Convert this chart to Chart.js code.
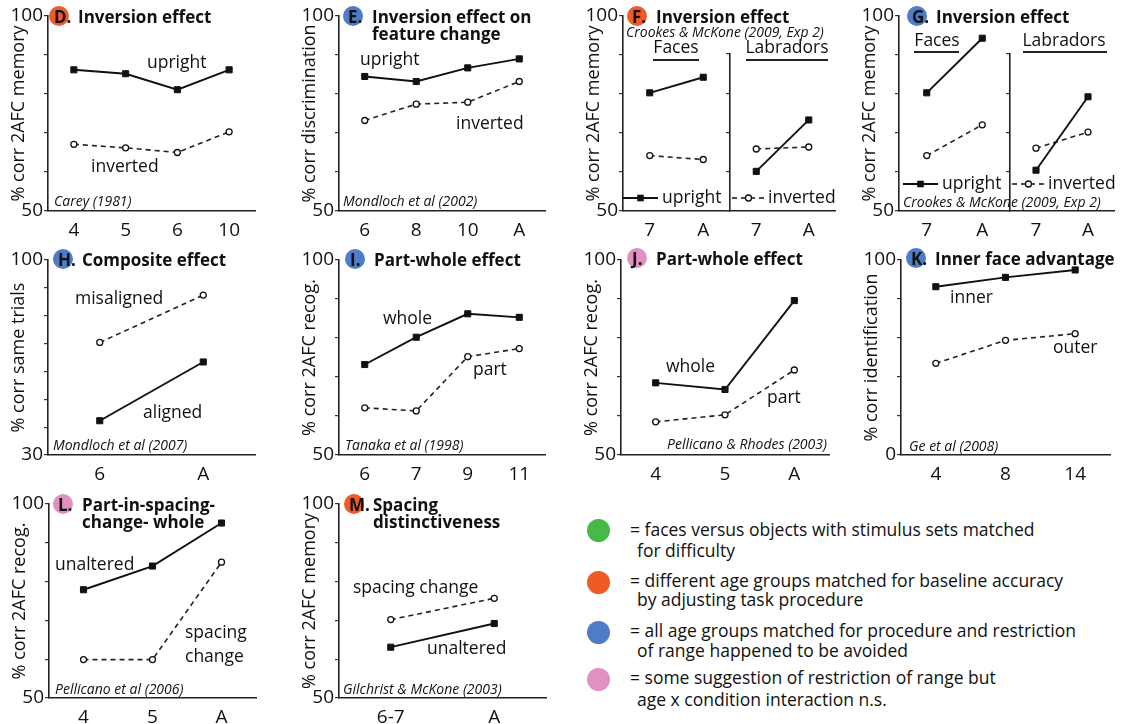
<!DOCTYPE html>
<html>
<head>
<meta charset="utf-8">
<script src="https://cdn.jsdelivr.net/npm/chart.js@4"></script>
<style>
  body { margin: 0; background: #fff; }
  #page { position: relative; width: 1126px; height: 724px; overflow: hidden; font-family: 'Open Sans', sans-serif; color: #111; }
  .t { position: absolute; white-space: nowrap; line-height: 1; transform: translateY(-50%); font-size: 17.5px; }
  .ttl { font-weight: bold; font-size: 17px; }
  .src { font-style: italic; font-size: 14px; }
  .key { font-size: 17.5px; }
  .dot { position: absolute; border-radius: 50%; }
  .uline { position: absolute; height: 1.5px; background: #222; }
  .mk { position: absolute; }
</style>
</head>
<body>
<div id="page"></div>
<script>
'use strict';

// ******* DATA *******

// D. Inversion effect, Carey (1981)
const dAges = ['4', '5', '6', '10'];
const dUpright = [86.2, 85.2, 81.1, 86.2];
const dInverted = [67.1, 66.2, 65.0, 70.3];

// E. Inversion effect on feature change, Mondloch et al (2002)
const eAges = ['6', '8', '10', 'A'];
const eUpright = [84.5, 83.2, 86.7, 89.0];
const eInverted = [73.2, 77.4, 77.9, 83.2];

// F. Inversion effect, Crookes & McKone (2009, Exp 2)
const fAges = ['7', 'A'];
const fFacesUpright = [80.3, 84.3];
const fFacesInverted = [64.2, 63.2];
const fLabUpright = [60.1, 73.2];
const fLabInverted = [65.8, 66.3];

// G. Inversion effect, Crookes & McKone (2009, Exp 2)
const gAges = ['7', 'A'];
const gFacesUpright = [80.3, 94.3];
const gFacesInverted = [64.2, 72.1];
const gLabUpright = [60.4, 79.1];
const gLabInverted = [66.0, 70.1];

// H. Composite effect, Mondloch et al (2007)
const hAges = ['6', 'A'];
const hMisaligned = [70.4, 87.4];
const hAligned = [42.3, 63.4];

// I. Part-whole effect, Tanaka et al (1998)
const iAges = ['6', '7', '9', '11'];
const iWhole = [73.2, 80.2, 86.2, 85.3];
const iPart = [62.1, 61.3, 75.2, 77.3];

// J. Part-whole effect, Pellicano & Rhodes (2003)
const jAges = ['4', '5', 'A'];
const jWhole = [68.5, 66.8, 89.6];
const jPart = [58.5, 60.3, 71.8];

// K. Inner face advantage, Ge et al (2008)
const kAges = ['4', '8', '14'];
const kInner = [86.3, 91.1, 94.9];
const kOuter = [47.0, 58.8, 62.2];

// L. Part-in-spacing-change-whole, Pellicano et al (2006)
const lAges = ['4', '5', 'A'];
const lUnaltered = [77.9, 84.0, 95.1];
const lSpacing = [59.9, 59.9, 85.0];

// M. Spacing distinctiveness, Gilchrist & McKone (2003)
const mAges = ['6-7', 'A'];
const mSpacing = [70.2, 75.7];
const mUnaltered = [63.1, 69.2];

// y ranges [min, max, step]
const range50 = [50, 100, 5];
const range30 = [30, 100, 10];
const range0 = [0, 100, 10];
const rangeLab = [50, 90, 5];

const ORANGE = '#ef5a26';
const BLUE = '#4f7cc6';
const PINK = '#e190c2';
const GREEN = '#46b947';
const FONT = "'Open Sans', sans-serif";

let page = document.getElementById('page');

// ***** HELPERS *****

function solid(data) {
  return {
    data: data,
    borderColor: '#111',
    borderWidth: 1.9,
    pointStyle: 'rect',
    pointRadius: 4.3,
    pointBackgroundColor: '#111',
    pointBorderColor: '#111',
    pointBorderWidth: 1
  };
}

function dashed(data) {
  return {
    data: data,
    borderColor: '#222',
    borderWidth: 1.6,
    borderDash: [5, 4],
    pointStyle: 'circle',
    pointRadius: 3,
    pointBackgroundColor: '#fff',
    pointBorderColor: '#111',
    pointBorderWidth: 1.3
  };
}

// area = chart area in page pixels
function panel(area, labels, datasets, range, yTitle) {
  let W = yTitle ? 48 : 8;
  let H = 30;
  let padTop = 16;
  let padRight = 10;
  let wrap = document.createElement('div');
  wrap.style.position = 'absolute';
  wrap.style.left = (area.l - W) + 'px';
  wrap.style.top = (area.t - padTop) + 'px';
  wrap.style.width = (area.r - area.l + W + padRight) + 'px';
  wrap.style.height = (area.b - area.t + padTop + H) + 'px';
  let canvas = document.createElement('canvas');
  wrap.appendChild(canvas);
  page.appendChild(wrap);

  let yMin = range[0];
  let yMax = range[1];

  new Chart(canvas, {
    type: 'line',
    data: { labels: labels, datasets: datasets },
    options: {
      responsive: true,
      maintainAspectRatio: false,
      animation: false,
      layout: { padding: { top: padTop, right: padRight, left: 0, bottom: 0 } },
      plugins: { legend: { display: false }, tooltip: { enabled: false } },
      scales: {
        x: {
          type: 'category',
          offset: true,
          grid: { display: false },
          border: { display: true, color: '#222', width: 1.6 },
          ticks: { color: '#111', font: { family: FONT, size: 19 }, padding: 0, maxRotation: 0, autoSkip: false },
          afterFit: function (s) { s.height = H; }
        },
        y: {
          min: yMin,
          max: yMax,
          grid: { display: true, drawOnChartArea: false, drawTicks: true, tickLength: 4, color: '#333', lineWidth: 1.2 },
          border: { display: true, color: '#222', width: 1.6 },
          ticks: {
            stepSize: range[2],
            color: '#111',
            padding: 1,
            font: { family: FONT, size: 19 },
            callback: function (v) {
              if (!yTitle) { return ''; }
              return (v === yMin || v === yMax) ? String(v) : '';
            }
          },
          title: {
            display: !!yTitle,
            text: yTitle || '',
            color: '#111',
            font: { family: FONT, size: 18 },
            padding: { top: 8, bottom: 0 }
          },
          afterFit: function (s) { s.width = W; }
        }
      }
    }
  });
}

function txt(x, y, text, cls, align) {
  let el = document.createElement('div');
  el.className = 't' + (cls ? ' ' + cls : '');
  el.textContent = text;
  el.style.top = y + 'px';
  if (align === 'right') {
    el.style.right = (1126 - x) + 'px';
  } else if (align === 'center') {
    el.style.left = x + 'px';
    el.style.transform = 'translate(-50%, -50%)';
  } else {
    el.style.left = x + 'px';
  }
  page.appendChild(el);
  return el;
}

function dot(cx, cy, r, color) {
  let el = document.createElement('div');
  el.className = 'dot';
  el.style.left = (cx - r) + 'px';
  el.style.top = (cy - r) + 'px';
  el.style.width = (2 * r) + 'px';
  el.style.height = (2 * r) + 'px';
  el.style.background = color;
  page.appendChild(el);
}

function badge(cx, cy, color, letter, title, title2) {
  dot(cx, cy, 10, color);
  txt(cx - 5, cy, letter, 'ttl');
  txt(cx + 19, cy, title, 'ttl');
  if (title2) {
    txt(cx + 19, cy + 17, title2, 'ttl');
  }
}

function underline(x0, x1, y) {
  let el = document.createElement('div');
  el.className = 'uline';
  el.style.left = x0 + 'px';
  el.style.top = y + 'px';
  el.style.width = (x1 - x0) + 'px';
  page.appendChild(el);
}

// little legend key: line segment with a marker in the middle
function key(x0, x1, y, isDashed) {
  let svg = document.createElementNS('http://www.w3.org/2000/svg', 'svg');
  svg.setAttribute('class', 'mk');
  svg.setAttribute('width', x1 - x0);
  svg.setAttribute('height', 12);
  svg.style.left = x0 + 'px';
  svg.style.top = (y - 6) + 'px';
  let w = x1 - x0;
  let line = document.createElementNS(svg.namespaceURI, 'line');
  line.setAttribute('x1', 0);
  line.setAttribute('x2', w);
  line.setAttribute('y1', 6);
  line.setAttribute('y2', 6);
  line.setAttribute('stroke', '#111');
  line.setAttribute('stroke-width', isDashed ? 1.6 : 1.9);
  if (isDashed) { line.setAttribute('stroke-dasharray', '5 4'); }
  svg.appendChild(line);
  let m;
  if (isDashed) {
    m = document.createElementNS(svg.namespaceURI, 'circle');
    m.setAttribute('cx', w / 2);
    m.setAttribute('cy', 6);
    m.setAttribute('r', 3);
    m.setAttribute('fill', '#fff');
    m.setAttribute('stroke', '#111');
    m.setAttribute('stroke-width', 1.3);
  } else {
    m = document.createElementNS(svg.namespaceURI, 'rect');
    m.setAttribute('x', w / 2 - 3.3);
    m.setAttribute('y', 2.7);
    m.setAttribute('width', 6.6);
    m.setAttribute('height', 6.6);
    m.setAttribute('fill', '#111');
  }
  svg.appendChild(m);
  page.appendChild(svg);
}

// ***** PANELS *****

// D
panel({ l: 48, r: 255, t: 16, b: 211 }, dAges, [solid(dUpright), dashed(dInverted)], range50, '% corr 2AFC memory');
badge(59, 16, ORANGE, 'D.', 'Inversion effect');
txt(147, 62, 'upright');
txt(91, 166, 'inverted');
txt(54, 201, 'Carey (1981)', 'src');

// E
panel({ l: 339, r: 545, t: 16, b: 211 }, eAges, [solid(eUpright), dashed(eInverted)], range50, '% corr discrimination');
badge(353, 16, BLUE, 'E.', 'Inversion effect on', 'feature change');
txt(360, 59, 'upright');
txt(456, 123, 'inverted');
txt(343, 201, 'Mondloch et al (2002)', 'src');

// F
panel({ l: 623, r: 730, t: 16, b: 211 }, fAges, [solid(fFacesUpright), dashed(fFacesInverted)], range50, '% corr 2AFC memory');
panel({ l: 730, r: 835, t: 54, b: 211 }, fAges, [solid(fLabUpright), dashed(fLabInverted)], rangeLab, '');
badge(637, 16, ORANGE, 'F.', 'Inversion effect');
txt(626, 32, 'Crookes & McKone (2009, Exp 2)', 'src');
txt(676, 47, 'Faces', '', 'center');
underline(653, 699, 59);
txt(787, 47, 'Labradors', '', 'center');
underline(746, 828, 59);
key(623, 658, 198, false);
txt(662, 197, 'upright');
key(732, 765, 198, true);
txt(768, 197, 'inverted');

// G
panel({ l: 899, r: 1010, t: 16, b: 211 }, gAges, [solid(gFacesUpright), dashed(gFacesInverted)], range50, '% corr 2AFC memory');
panel({ l: 1010, r: 1114, t: 54, b: 211 }, gAges, [solid(gLabUpright), dashed(gLabInverted)], rangeLab, '');
badge(917, 16, BLUE, 'G.', 'Inversion effect');
txt(937, 40, 'Faces', '', 'center');
underline(914, 959, 51);
txt(1064, 40, 'Labradors', '', 'center');
underline(1023, 1107, 51);
key(903, 938, 184, false);
txt(942, 183, 'upright');
key(1012, 1045, 184, true);
txt(1048, 183, 'inverted');
txt(903, 202, 'Crookes & McKone (2009, Exp 2)', 'src');

// H
panel({ l: 48, r: 255, t: 260, b: 455 }, hAges, [dashed(hMisaligned), solid(hAligned)], range30, '% corr same trials');
badge(63, 259, BLUE, 'H.', 'Composite effect');
txt(75, 298, 'misaligned');
txt(143, 412, 'aligned');
txt(53, 445, 'Mondloch et al (2007)', 'src');

// I
panel({ l: 339, r: 545, t: 260, b: 455 }, iAges, [solid(iWhole), dashed(iPart)], range50, '% corr 2AFC recog.');
badge(355, 259, BLUE, 'I.', 'Part-whole effect');
txt(383, 318, 'whole');
txt(473, 369, 'part');
txt(345, 445, 'Tanaka et al (1998)', 'src');

// J
panel({ l: 621, r: 829, t: 260, b: 455 }, jAges, [solid(jWhole), dashed(jPart)], range50, '% corr 2AFC recog.');
badge(637, 258, PINK, 'J.', 'Part-whole effect');
txt(666, 366, 'whole');
txt(767, 397, 'part');
txt(827, 444, 'Pellicano & Rhodes (2003)', 'src', 'right');

// K
panel({ l: 901, r: 1110, t: 260, b: 455 }, kAges, [solid(kInner), dashed(kOuter)], range0, '% corr identification');
badge(916, 258, BLUE, 'K.', 'Inner face advantage');
txt(950, 297, 'inner');
txt(1053, 347, 'outer');
txt(909, 446, 'Ge et al (2008)', 'src');

// L
panel({ l: 49, r: 256, t: 504, b: 698 }, lAges, [solid(lUnaltered), dashed(lSpacing)], range50, '% corr 2AFC recog.');
badge(63, 504, PINK, 'L.', 'Part-in-spacing-', 'change- whole');
txt(55, 564, 'unaltered');
txt(185, 632, 'spacing');
txt(185, 656, 'change');
txt(55, 689, 'Pellicano et al (2006)', 'src');

// M
panel({ l: 339, r: 546, t: 504, b: 698 }, mAges, [dashed(mSpacing), solid(mUnaltered)], range50, '% corr 2AFC memory');
badge(354, 504, ORANGE, 'M.', 'Spacing', 'distinctiveness');
txt(353, 587, 'spacing change');
txt(427, 648, 'unaltered');
txt(343, 689, 'Gilchrist & McKone (2003)', 'src');

// ***** COLOUR KEY *****
dot(598, 530, 11.5, GREEN);
txt(630, 530, '= faces versus objects with stimulus sets matched', 'key');
txt(637, 551, 'for difficulty', 'key');
dot(598, 582, 11.5, ORANGE);
txt(630, 581, '= different age groups matched for baseline accuracy', 'key');
txt(637, 600, 'by adjusting task procedure', 'key');
dot(598, 632, 11.5, BLUE);
txt(630, 631, '= all age groups matched for procedure and restriction', 'key');
txt(637, 651, 'of range happened to be avoided', 'key');
dot(598, 679, 11.5, PINK);
txt(630, 678, '= some suggestion of restriction of range but', 'key');
txt(637, 700, 'age x condition interaction n.s.', 'key');
</script>
</body>
</html>
